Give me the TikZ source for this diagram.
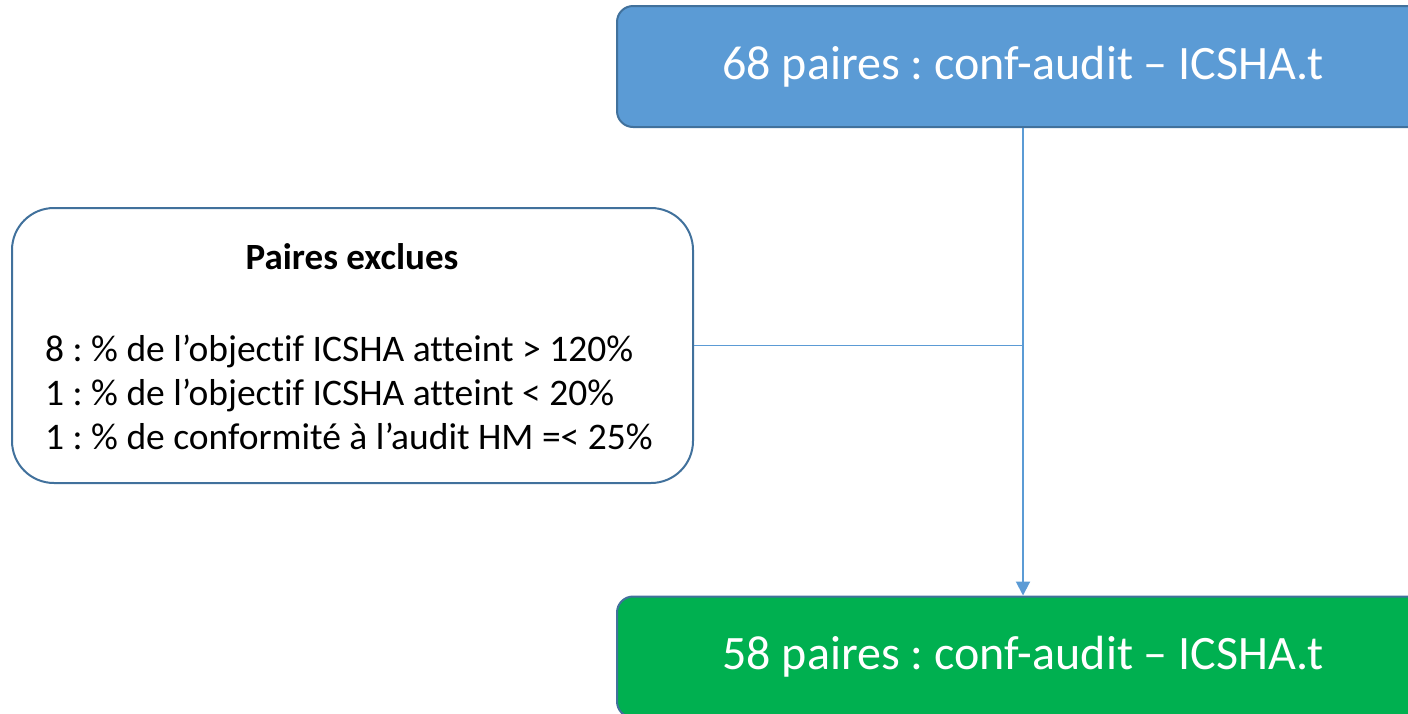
\documentclass[tikz,border=0pt]{standalone}
\usepackage{fontspec}
\setmainfont{Carlito}[Ligatures=NoCommon]
\usetikzlibrary{arrows.meta}
\frenchspacing
\definecolor{topblue}{HTML}{5B9BD5}
\definecolor{edgeblue}{HTML}{41719C}
\definecolor{boxgreen}{HTML}{00B050}
\tikzset{
  bigbox/.style={draw=edgeblue, line width=2pt, rounded corners=16pt, text=white,
    minimum width=812pt, minimum height=121pt, inner sep=0pt,
    font=\fontsize{48}{58}\selectfont},
  exclbox/.style={draw=edgeblue, line width=2pt, rounded corners=42pt, fill=white,
    minimum width=681pt, minimum height=275pt, inner sep=0pt},
  conn/.style={draw=topblue, line width=2pt},
  thinconn/.style={draw=topblue, line width=1pt},
  txt/.style={inner sep=0pt, font=\fontsize{37.5}{44}\selectfont}
}
\begin{document}
\begin{tikzpicture}[x=1pt,y=-1pt]
\useasboundingbox (0,0) rectangle (1408,713);
\clip (0,0) rectangle (1408,713);
\node[bigbox, fill=topblue] (top) at (1023,66.5) {68 paires : conf-audit – ICSHA.t};
\node[bigbox, fill=boxgreen] (bot) at (1023,657) {58 paires : conf-audit – ICSHA.t};
\node[exclbox] (excl) at (352.5,345.5) {};
\node[txt, font=\fontsize{37}{44}\selectfont\bfseries] (title) at (352,257) {Paires exclues};
\node[txt, anchor=west, align=left] (list) at (45,392) {8 : \% de l’objectif ICSHA atteint > 120\%\\1 : \% de l’objectif ICSHA atteint < 20\%\\1 : \% de conformité à l’audit HM =< 25\%};
\draw[conn, -{Triangle[length=14pt,width=14pt]}] (top.south) -- (bot.north);
\draw[thinconn] (excl.east) -- (excl.east -| top.south);
\end{tikzpicture}
\end{document}
